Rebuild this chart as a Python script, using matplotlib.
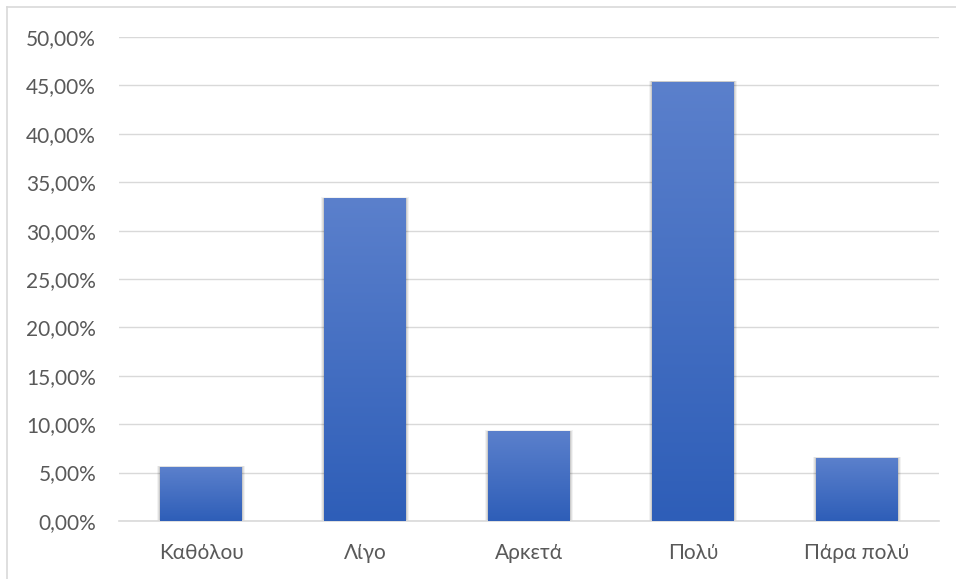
import numpy as np
import matplotlib.pyplot as plt
from matplotlib.patches import Rectangle
from matplotlib.lines import Line2D
from matplotlib.ticker import FuncFormatter

# Ποσοστά απαντήσεων ανά κατηγορία
categories = ['Καθόλου', 'Λίγο', 'Αρκετά', 'Πολύ', 'Πάρα πολύ']
values = [5.56, 33.33, 9.26, 45.37, 6.48]

plt.rcParams['font.family'] = ['Lato', 'DejaVu Sans']

fig = plt.figure(figsize=(9.56, 5.79), dpi=100)
ax = fig.add_axes([0.1245, 0.1002, 0.8577, 0.8358])

# Χρωματική διαβάθμιση για κάθε στήλη (ανοιχτό πάνω, σκούρο κάτω)
top_c = np.array([0x5B, 0x80, 0xCC]) / 255
bot_c = np.array([0x2E, 0x5E, 0xB8]) / 255
t = np.linspace(0, 1, 256)[:, None]
grad = (bot_c * (1 - t) + top_c * t)[:, None, :].reshape(256, 1, 3)

width = 0.5
for i, v in enumerate(values):
    x0 = i - width / 2
    # απαλή σκιά γύρω από τη στήλη
    for k, a in zip([0.06, 0.04, 0.02], [0.05, 0.07, 0.09]):
        ax.add_patch(Rectangle((x0 - k * 0.3, 0), width + k * 0.6, v + k * 2,
                               facecolor='black', edgecolor='none', alpha=a, zorder=2))
    bar = Rectangle((x0, 0), width, v, facecolor='none', edgecolor='none', zorder=3)
    ax.add_patch(bar)
    im = ax.imshow(grad, extent=[x0, x0 + width, 0, v], origin='lower',
                   aspect='auto', zorder=3)
    im.set_clip_path(bar)

ax.set_xlim(-0.5, len(categories) - 0.5)
ax.set_ylim(0, 50)
ax.set_yticks(np.arange(0, 50.1, 5))
ax.yaxis.set_major_formatter(FuncFormatter(lambda y, _: f'{y:.2f}%'.replace('.', ',')))
ax.set_xticks(range(len(categories)))
ax.set_xticklabels(categories)

ax.grid(axis='y', color='#D9D9D9', linewidth=1.0, zorder=0)
ax.set_axisbelow(True)
for s in ['top', 'right', 'left']:
    ax.spines[s].set_visible(False)
ax.spines['bottom'].set_color('#D9D9D9')
ax.spines['bottom'].set_linewidth(1.2)
ax.tick_params(axis='both', length=0, labelsize=15, colors='#595959')
ax.tick_params(axis='y', pad=16.5)
ax.tick_params(axis='x', pad=16)

# περίγραμμα γραφήματος
fig.add_artist(Line2D([7 / 956, 7 / 956], [0, 1 - 7 / 579], color='#D9D9D9', lw=1.2))
fig.add_artist(Line2D([7 / 956, 1], [1 - 7 / 579, 1 - 7 / 579], color='#D9D9D9', lw=1.2))

fig.savefig('out.png', dpi=100)
